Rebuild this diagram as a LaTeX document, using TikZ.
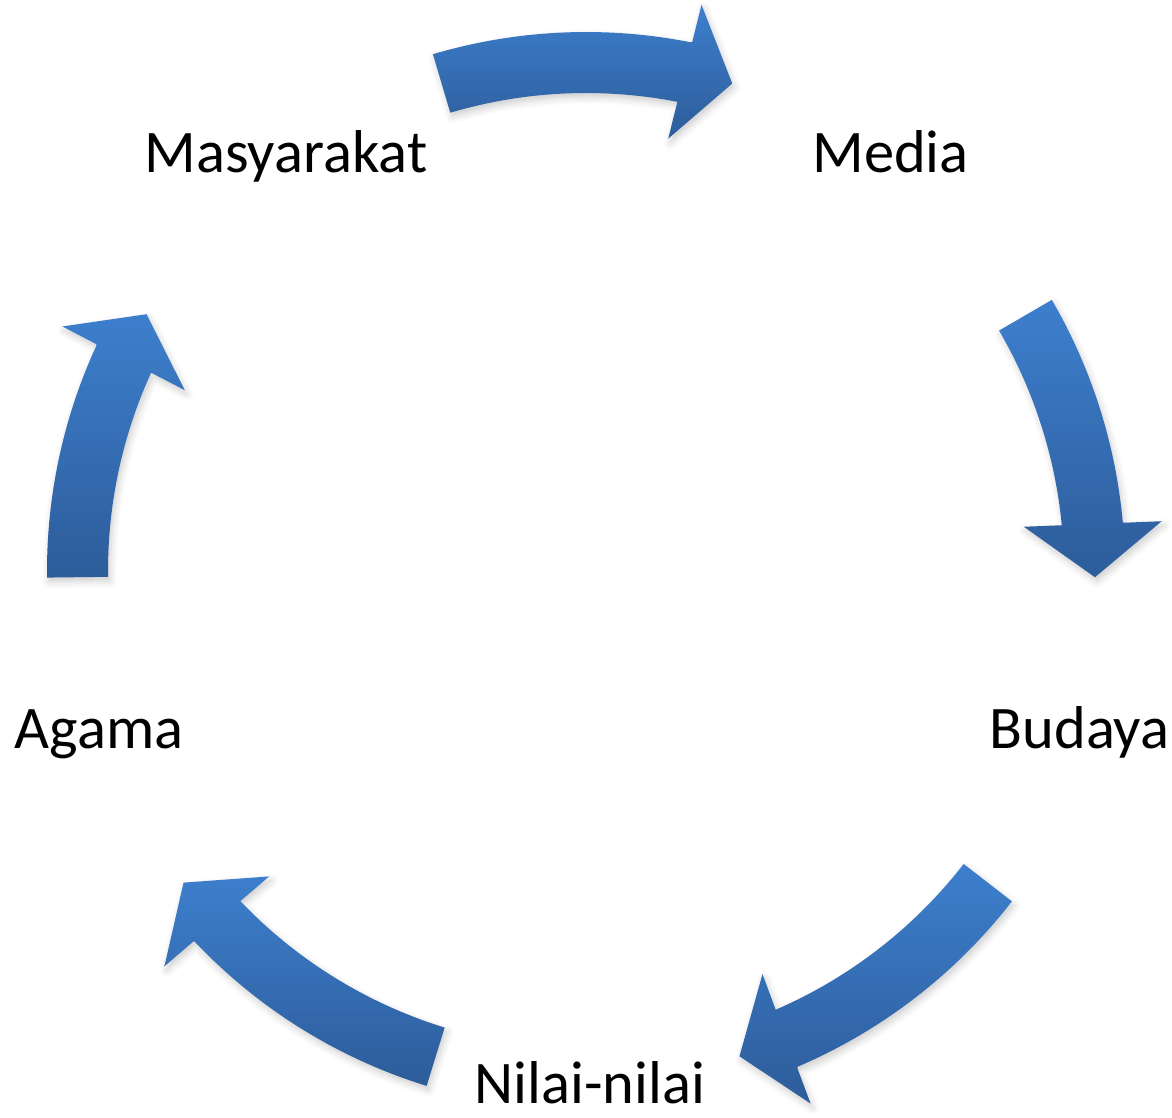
\documentclass[tikz,border=0pt]{standalone}
\usepackage{fontspec}
\setmainfont{Carlito}
\usetikzlibrary{calc,shadows.blur}

\definecolor{arrowtop}{RGB}{61,127,205}
\definecolor{arrowbottom}{RGB}{45,92,154}

% #1 tail angle, #2 head base angle, #3 tip angle
\newcommand{\bentarrow}[3]{%
  \path[cyclearrow] (#1:5.39) arc[start angle=#1, end angle=#2, radius=5.39]
    -- ($(#2:5.09)!0.305cm!90:(#3:5.09)$)
    -- ($(#2:5.09)!0.69cm!90:(#3:5.09)$)
    -- (#3:5.09)
    -- ($(#2:5.09)!0.69cm!-90:(#3:5.09)$)
    -- ($(#2:5.09)!0.305cm!-90:(#3:5.09)$)
    -- (#2:4.78) arc[start angle=#2, end angle=#1, radius=4.78] -- cycle;}

\begin{document}
\begin{tikzpicture}[
		cyclearrow/.style={top color=arrowtop, bottom color=arrowbottom,
			blur shadow={shadow xshift=0.6pt, shadow yshift=-1.2pt,
				shadow blur radius=2pt, shadow opacity=20}},
		cyclelabel/.style={anchor=base, inner sep=0pt,
			font=\fontsize{17.2}{20}\selectfont}]
		\useasboundingbox (-5.86,-5.46) rectangle (5.86,5.71);
		\bentarrow{106.5}{78.8}{73.3}
		\bentarrow{30.2}{5.3}{-0.7}
		\bentarrow{-37.8}{-66.8}{-72.45}
		\bentarrow{-107.2}{-136.5}{-142.25}
		\bentarrow{180.7}{155.3}{149.7}
		\node[cyclelabel] (masyarakat) at (-3.00,3.98) {Masyarakat};
		\node[cyclelabel] (media) at (3.045,3.98) {Media};
		\node[cyclelabel] (budaya) at (4.935,-1.77) {Budaya};
		\node[cyclelabel] (nilai) at (0.04,-5.32) {Nilai-nilai};
		\node[cyclelabel] (agama) at (-4.87,-1.77) {Agama};
	\end{tikzpicture}
\end{document}
